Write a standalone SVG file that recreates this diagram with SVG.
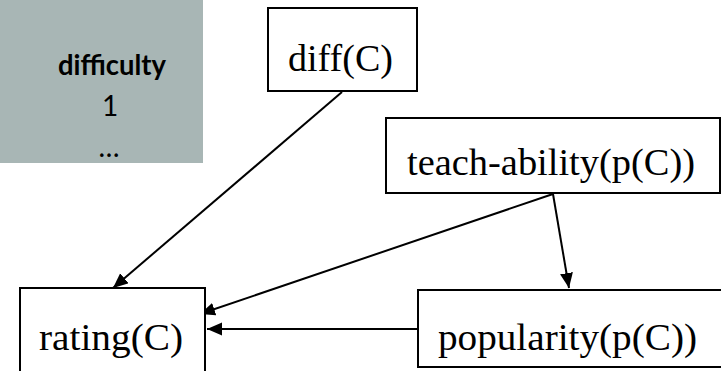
<svg xmlns="http://www.w3.org/2000/svg" width="721" height="371" viewBox="0 0 721 371">
  <style>
    .box { fill: #ffffff; stroke: #000000; stroke-width: 2; }
    .lbl { font-family: "Liberation Serif", "Times New Roman", serif; font-size: 37px; fill: #000000; }
    .edge { stroke: #000000; stroke-width: 2; fill: none; marker-end: url(#arrow); }
    .note { font-family: Lato, "Liberation Sans", sans-serif; font-size: 28px; fill: #000000; text-anchor: middle; }
  </style>
  <defs>
    <marker id="arrow" markerUnits="userSpaceOnUse" markerWidth="16" markerHeight="14" refX="15" refY="6.5" orient="auto">
      <path d="M0,0 L15,6.5 L0,13 Z" fill="#000000"/>
    </marker>
  </defs>

  <rect width="721" height="371" fill="#ffffff"/>

  <!-- attribute legend panel -->
  <g id="legend">
    <rect x="0" y="0" width="203" height="163" fill="#a8b6b5"/>
    <text class="note" x="112" y="75" font-weight="bold" textLength="108" lengthAdjust="spacingAndGlyphs">difficulty</text>
    <text class="note" x="110" y="116">1</text>
    <text class="note" x="109" y="157">…</text>
  </g>

  <!-- dependency edges -->
  <g id="edges">
    <line class="edge" x1="342" y1="92" x2="113" y2="288"/>
    <line class="edge" x1="553" y1="194" x2="200" y2="314"/>
    <line class="edge" x1="553" y1="194" x2="569" y2="288"/>
    <line class="edge" x1="418" y1="329" x2="207" y2="329"/>
  </g>

  <g id="diff">
    <rect class="box" x="268" y="8" width="149" height="83"/>
    <text class="lbl" x="288" y="71" textLength="105" lengthAdjust="spacingAndGlyphs">diff(C)</text>
  </g>

  <g id="teach-ability">
    <rect class="box" x="386" y="118" width="334" height="75"/>
    <text class="lbl" x="407" y="175" textLength="288" lengthAdjust="spacingAndGlyphs">teach-ability(p(C))</text>
  </g>

  <g id="rating">
    <rect class="box" x="20" y="288" width="185" height="100"/>
    <text class="lbl" x="39" y="350" textLength="144" lengthAdjust="spacingAndGlyphs">rating(C)</text>
  </g>

  <g id="popularity">
    <rect class="box" x="418" y="290" width="310" height="77"/>
    <text class="lbl" x="438" y="350" textLength="259" lengthAdjust="spacingAndGlyphs">popularity(p(C))</text>
  </g>
</svg>
